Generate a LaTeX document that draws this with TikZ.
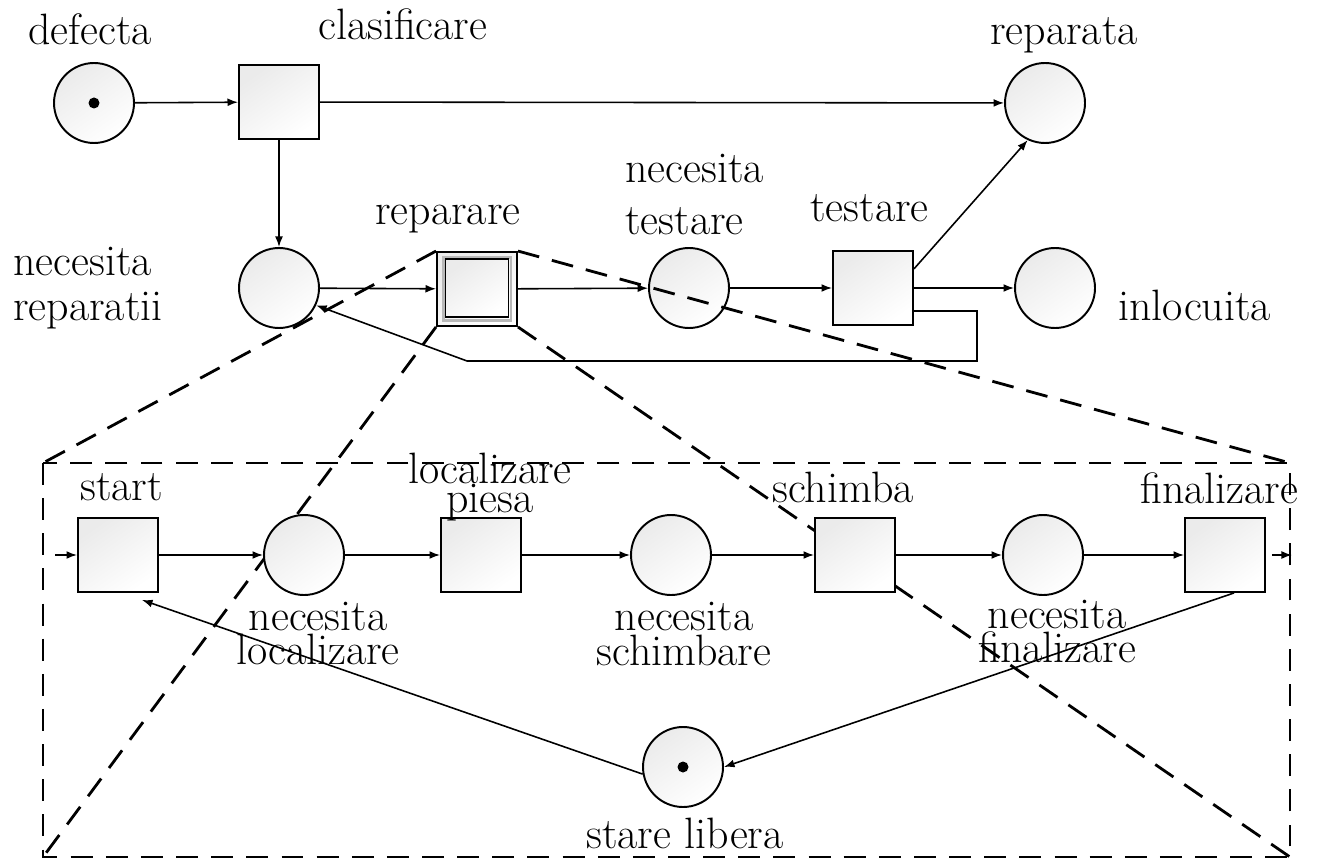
\documentclass[tikz,border=0pt]{standalone}
\usepackage{fontspec}
\usetikzlibrary{arrows.meta,calc}
\newcommand\tightlines{\lineskiplimit -30pt\relax}
\begin{document}
\begin{tikzpicture}[x=0.02cm,y=-0.02cm,
  every node/.style={inner sep=0pt},
  lbl/.style={font=\fontsize{25}{30}\selectfont},
  twoline/.style={font={\fontsize{25}{#1}\selectfont\tightlines}},
  fillshade/.style={top color=black!8, bottom color=white, shading angle=35},
  place/.style={circle, draw, line width=1.1pt, minimum size=1.6cm, fillshade},
  trans/.style={rectangle, draw, line width=1.1pt, minimum width=1.6cm, minimum height=1.48cm, fillshade},
  tok/.style={circle, fill=black, minimum size=0.22cm},
  arc/.style={line width=0.9pt, -{Latex[length=6pt,width=4.5pt]}},
  zoomln/.style={line width=1.6pt, dash pattern=on 12.5pt off 7.5pt}
]
\useasboundingbox (0,0) rectangle (1321,861);

% ---------- upper net ----------
\node[place] (defecta) at (94,103) {};
\node[tok] (defectaTok) at (defecta) {};
\node[trans] (clasif) at (279,102) {};
\node[place] (reparata) at (1045,103) {};
\node[place] (nrep) at (279,288) {};
\node[trans, fill=white] (repar) at (477,289) {};
\node[draw=gray!55, line width=1.7pt, minimum width=1.36cm, minimum height=1.26cm] (reparBand) at (477,289) {};
\node[draw, line width=1pt, minimum width=1.26cm, minimum height=1.16cm, fillshade] (reparIn) at (477,288) {};
\node[place] (ntest) at (689,288) {};
\node[trans] (testare) at (873,288) {};
\node[place] (inloc) at (1055,288) {};

% labels (two-line labels are placed by the baseline of their last line)
\node[lbl, anchor=base west] (lDefecta) at (28,45) {defecta};
\node[lbl, anchor=base west] (lClasif) at (318,40) {clasificare};
\node[lbl, anchor=base west] (lReparata) at (990,45) {reparata};
\node[twoline=25.6pt, align=left, anchor=base west] (lNrep) at (13,320) {necesita\\reparatii};
\node[lbl, anchor=base west] (lRepar) at (375,225) {reparare};
\node[twoline=29.6pt, align=left, anchor=base west] (lNtest) at (625,235) {necesita\\testare};
\node[lbl, anchor=base west] (lTestare) at (810,222) {testare};
\node[lbl, anchor=base west] (lInloc) at (1118,320) {inlocuita};

\draw[arc] (defecta) -- (clasif);
\draw[arc] (clasif) -- (reparata);
\draw[arc] (clasif) -- (nrep);
\draw[arc] (nrep) -- (repar);
\draw[arc] (repar) -- (ntest);
\draw[arc] (ntest) -- (testare);
\draw[arc] (testare) -- (inloc);
\draw[arc] (testare.25) -- (reparata.-115);
\coordinate (fbR) at (977,311);
\coordinate (fbL) at (467,361);
\draw[arc] (fbR -| testare.east) -- (fbR) |- (fbL) -- (nrep.-25);

% ---------- refinement of the repair transition ----------
\coordinate (zTL) at (43,463);
\coordinate (zTR) at (1290,463);
\coordinate (zBL) at (43,857);
\coordinate (zBR) at (1290,857);
\draw[zoomln] (zTL) rectangle (zBR);
\draw[zoomln] (repar.north west) -- (zTL);
\draw[zoomln] (repar.south west) -- (zBL);
\draw[zoomln] (repar.north east) -- (zTR);
\draw[zoomln] (repar.south east) -- (zBR);

\node[trans] (start) at (118,555) {};
\node[place] (nloc) at (304,555) {};
\node[trans] (lpiesa) at (481,555) {};
\node[place] (nsch) at (671,555) {};
\node[trans] (schimba) at (855,555) {};
\node[place] (nfin) at (1043,555) {};
\node[trans] (final) at (1225,555) {};
\node[place] (stare) at (683,767) {};
\node[tok] (stareTok) at (stare) {};

\node[lbl, anchor=base west] (lStart) at (80,500) {start};
\node[twoline=19.3pt, align=center, anchor=base] (lNloc) at (318,664) {necesita\\localizare};
\node[twoline=16.5pt, align=center, anchor=base] (lLpiesa) at (490,512) {localizare\\piesa};
\node[twoline=19.6pt, align=center, anchor=base] (lNsch) at (684,665) {necesita\\schimbare};
\node[lbl, anchor=base west] (lSchimba) at (772,502) {schimba};
\node[twoline=19.3pt, align=center, anchor=base] (lNfin) at (1057,662) {necesita\\finalizare};
\node[lbl, anchor=base west] (lFinal) at (1140,503) {finalizare};
\node[lbl, anchor=base west] (lStare) at (586,848) {stare libera};

\coordinate (inTail) at (55,555);
\coordinate (outTip) at (1292,555);
\draw[arc] (inTail) -- (start);
\draw[arc] (start) -- (nloc);
\draw[arc] (nloc) -- (lpiesa);
\draw[arc] (lpiesa) -- (nsch);
\draw[arc] (nsch) -- (schimba);
\draw[arc] (schimba) -- (nfin);
\draw[arc] (nfin) -- (final);
\draw[arc, shorten <=0.12cm] (final) -- (outTip);
\draw[arc] (stare.190) -- ($(start.south)+(24,7)$);
\draw[arc] ($(final.south)+(9,0)$) -- (stare.east);
\end{tikzpicture}
\end{document}
